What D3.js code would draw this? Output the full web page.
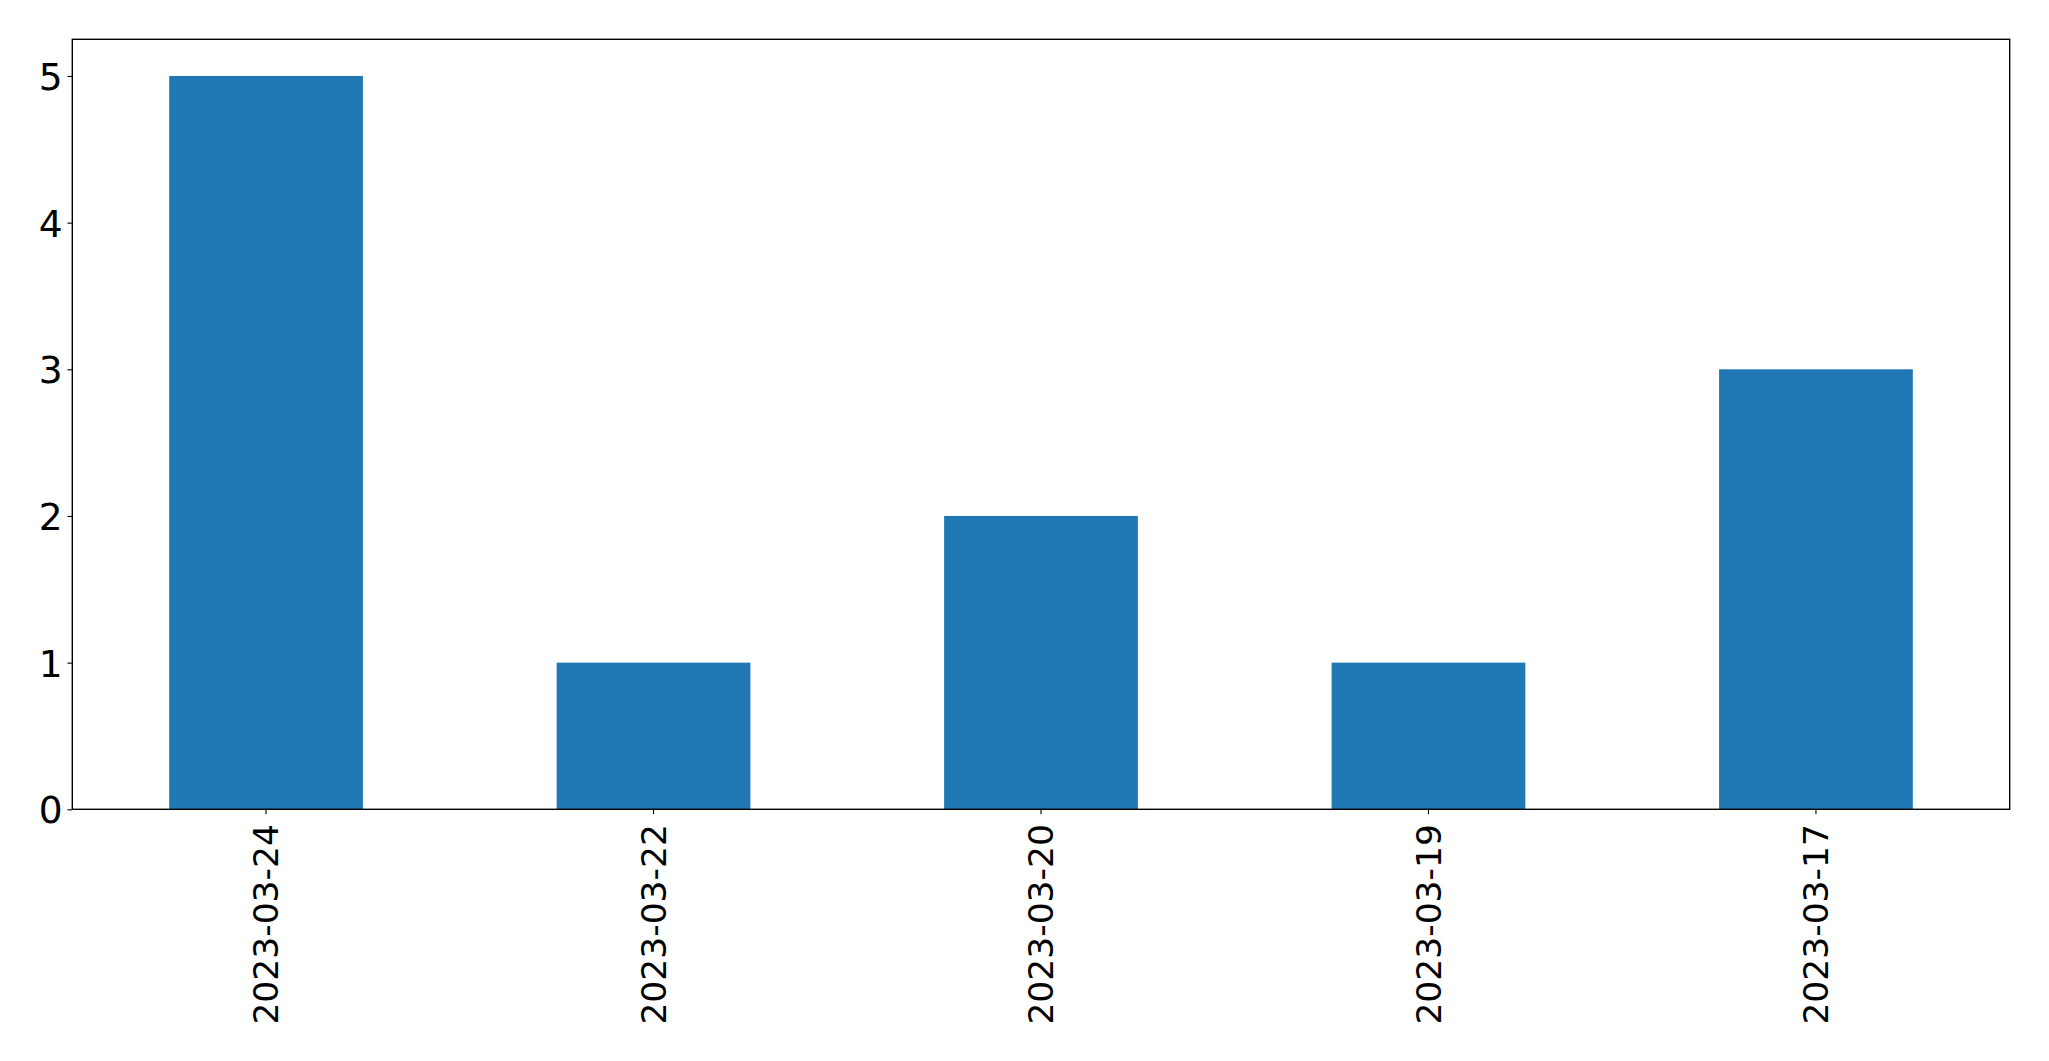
<!DOCTYPE html>
<html>
<head>
<meta charset="utf-8">
<script src="https://cdn.jsdelivr.net/npm/d3@7"></script>
<style>
  html, body { margin: 0; padding: 0; background: #fff; }
  svg { display: block; }
  text { font-family: "DejaVu Sans", sans-serif; fill: #000; }
</style>
</head>
<body>
<svg id="chart" width="2049" height="1061"></svg>
<script>
const categories = ["2023-03-24", "2023-03-22", "2023-03-20", "2023-03-19", "2023-03-17"];
const values = [5, 1, 2, 1, 3];
const yTicks = [0, 1, 2, 3, 4, 5];

const W = 2049, H = 1061;
const margin = { left: 72.3, right: W - 2009.7, top: 39.3, bottom: H - 809.3 };
const xFontSize = 34.5;
const yFontSize = 37.5;
const tickLen = 4.9, tickPad = 4.9;

const svg = d3.select("#chart");
const innerW = W - margin.left - margin.right;
const innerH = H - margin.top - margin.bottom;

const x = d3.scaleBand().domain(categories).range([margin.left, margin.left + innerW]).paddingInner(0.5).paddingOuter(0.25);
const y = d3.scaleLinear().domain([0, 5.25]).range([margin.top + innerH, margin.top]);

svg.append("rect").attr("x", 0).attr("y", 0).attr("width", W).attr("height", H).attr("fill", "#fff");

// bars
svg.append("g").selectAll("rect").data(categories).join("rect")
  .attr("x", (d) => x(d))
  .attr("width", x.bandwidth())
  .attr("y", (d, i) => y(values[i]))
  .attr("height", (d, i) => y(0) - y(values[i]))
  .attr("fill", "#1f77b4");

// frame
svg.append("rect")
  .attr("x", margin.left).attr("y", margin.top)
  .attr("width", innerW).attr("height", innerH)
  .attr("fill", "none").attr("stroke", "#000").attr("stroke-width", 1.4);

// y axis
const yAxis = d3.axisLeft(y).tickValues(yTicks).tickSize(tickLen).tickPadding(tickPad).tickFormat(d3.format("d"));
const gy = svg.append("g").attr("transform", `translate(${margin.left},0)`).call(yAxis);
gy.select(".domain").remove();
gy.selectAll(".tick line").attr("stroke", "#000").attr("stroke-width", 1.1);
gy.selectAll(".tick text").attr("font-size", yFontSize).attr("font-family", "DejaVu Sans").attr("fill", "#000").attr("dy", "0.36em");

// x axis
const xAxis = d3.axisBottom(x).tickSize(tickLen).tickPadding(tickPad);
const gx = svg.append("g").attr("transform", `translate(0,${margin.top + innerH})`).call(xAxis);
gx.select(".domain").remove();
gx.selectAll(".tick line").attr("stroke", "#000").attr("stroke-width", 1.1);
gx.selectAll(".tick text")
  .attr("font-size", xFontSize)
  .attr("font-family", "DejaVu Sans")
  .attr("fill", "#000")
  .attr("text-anchor", "end")
  .attr("transform", "rotate(-90)")
  .attr("x", -(tickLen + tickPad + 5))
  .attr("y", 0)
  .attr("dy", "0.36em");
</script>
</body>
</html>
